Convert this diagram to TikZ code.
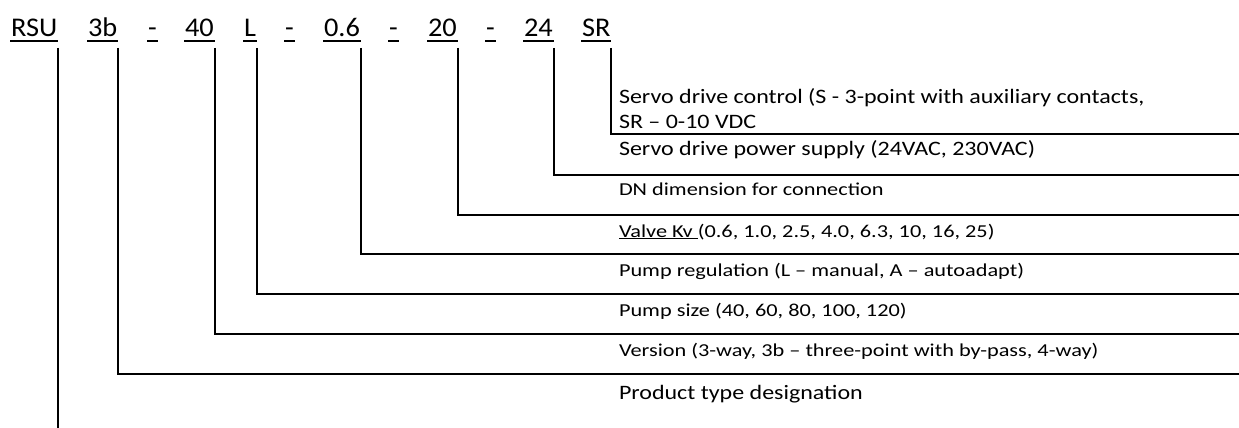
\documentclass[tikz,border=0pt]{standalone}
\usepackage{fontspec}
\setmainfont{Carlito}
\newfontfamily\lblcode{Carlito}[FakeStretch=1.05]
\newfontfamily\lblbig{Carlito}[FakeStretch=1.17]
\newfontfamily\lblsmall{Carlito}[FakeStretch=1.225]
\begin{document}
\begin{tikzpicture}[x=1pt,y=-1pt,line width=2pt,
  code/.style={inner sep=0pt,anchor=base west,font=\lblcode\fontsize{27}{32}\selectfont},
  big/.style={inner sep=0pt,anchor=base west,font=\lblbig\fontsize{20.5}{25}\selectfont},
  small/.style={inner sep=0pt,anchor=base west,font=\lblsmall\fontsize{18.2}{22}\selectfont},
  uline/.style={line width=1.7pt},
  leader/.style={line width=2pt}]
\useasboundingbox (0,0) rectangle (1239,428);
% code row
\node[code] (rsu) at (10,37) {RSU};
\node[code] (v3b) at (87,37) {3b};
\node[code] (d1) at (147,37) {-};
\node[code] (p40) at (184,37) {40};
\node[code] (pl) at (243,37) {L};
\node[code] (d2) at (284,37) {-};
\node[code] (kv) at (323,37) {0.6};
\node[code] (d3) at (388,37) {-};
\node[code] (dn) at (427,37) {20};
\node[code] (d4) at (485,37) {-};
\node[code] (pw) at (523,37) {24};
\node[code] (sr) at (581,37) {SR};
\foreach \n in {rsu,v3b,d1,p40,pl,d2,kv,d3,dn,d4,pw,sr}
  \draw[uline] ([yshift=-4pt]\n.base west) -- ([yshift=-4pt]\n.base east);
% labels
\node[big] (t1) at (618,103) {Servo drive control (S - 3-point with auxiliary contacts,};
\node[big] (t1b) at (618,128) {SR – 0-10 VDC};
\node[big] (t2) at (618,155) {Servo drive power supply (24VAC, 230VAC)};
\node[small] (t3) at (618,195) {DN dimension for connection};
\node[small] (t4) at (618,237) {\underline{Valve Kv\ }(0.6, 1.0, 2.5, 4.0, 6.3, 10, 16, 25)};
\node[small] (t5) at (618,276) {Pump regulation (L – manual, A – autoadapt)};
\node[small] (t6) at (618,316) {Pump size (40, 60, 80, 100, 120)};
\node[small] (t7) at (618,356) {Version (3-way, 3b – three-point with by-pass, 4-way)};
\node[big] (t8) at (618,399) {Product type designation};
% connector ends
\coordinate (top) at (0,48);
\coordinate (eSR) at (1239,134);
\coordinate (ePW) at (1239,175);
\coordinate (eDN) at (1239,215);
\coordinate (eKV) at (1239,254);
\coordinate (ePL) at (1239,294);
\coordinate (eP40) at (1239,334);
\coordinate (e3b) at (1239,374);
\coordinate (eRSU) at (58,428);
% leaders
\draw[leader] (sr.east |- top) |- (eSR);
\draw[leader] (pw.east |- top) |- (ePW);
\draw[leader] (dn.east |- top) |- (eDN);
\draw[leader] (kv.east |- top) |- (eKV);
\draw[leader] (pl.east |- top) |- (ePL);
\draw[leader] (p40.east |- top) |- (eP40);
\draw[leader] (v3b.east |- top) |- (e3b);
\draw[leader] (rsu.east |- top) -- (rsu.east |- eRSU);
\end{tikzpicture}
\end{document}
